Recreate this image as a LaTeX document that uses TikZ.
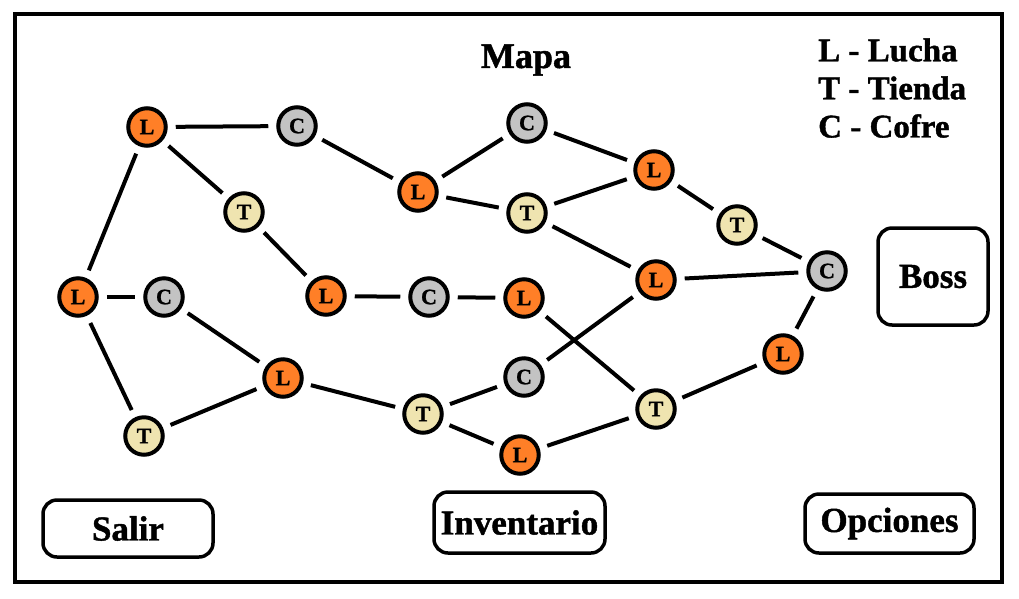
\documentclass[tikz,border=0pt]{standalone}
\usepackage{fontspec}
\setmainfont{Liberation Serif}[BoldFeatures={FakeBold=1.2}]
\definecolor{lorange}{HTML}{FF7F27}
\definecolor{cgray}{HTML}{C3C3C3}
\definecolor{ttan}{HTML}{EFE4B0}
\begin{document}
\begin{tikzpicture}[x=1pt,y=-1pt,
  room/.style={circle,draw=black,line width=4pt,minimum size=37.5pt,inner sep=0pt,
     font=\fontsize{22}{22}\selectfont\bfseries},
  lroom/.style={room,fill=lorange},
  croom/.style={room,fill=cgray},
  troom/.style={room,fill=ttan},
  link/.style={line width=4pt,shorten >=8pt,shorten <=8pt},
  btn/.style={draw=black,line width=3.5pt,rounded corners=14pt,
     font=\fontsize{35}{35}\selectfont\bfseries},
  big/.style={font=\fontsize{36}{36}\selectfont\bfseries},
  leg/.style={anchor=west,inner sep=0pt,font=\fontsize{33}{33}\selectfont\bfseries}]
\useasboundingbox (0,0) rectangle (1019,598);
\fill[white] (0,0) rectangle (1019,598);
\draw[line width=4pt] (15,14) rectangle (1002,582);

\node[big] (title) at (526,60) {Mapa};
\node[leg] (leg1) at (818,50) {L - Lucha};
\node[leg] (leg2) at (818,88) {T - Tienda};
\node[leg] (leg3) at (818,126) {C - Cofre};

\node[btn,minimum width=110pt,minimum height=97pt] (boss) at (933,276.5) {Boss};
\node[btn,minimum width=170pt,minimum height=57pt] (salir) at (128,528.5) {Salir};
\node[btn,minimum width=171pt,minimum height=61pt] (inv) at (519.5,522.5) {Inventario};
\node[btn,minimum width=169pt,minimum height=59pt] (opc) at (889.5,523.5) {Opciones};

\node[lroom] (L1) at (147,127) {L};
\node[croom] (C1) at (297,126) {C};
\node[troom] (T1) at (244,212) {T};
\node[lroom] (L2) at (418,192) {L};
\node[croom] (C2) at (527,123) {C};
\node[troom] (T2) at (527,213) {T};
\node[lroom] (L3) at (654,170) {L};
\node[troom] (T3) at (737,225) {T};
\node[lroom] (L4) at (656,280) {L};
\node[croom] (C3) at (827,271) {C};
\node[lroom] (L5) at (78,297) {L};
\node[croom] (C4) at (164,297) {C};
\node[lroom] (L6) at (326,296) {L};
\node[croom] (C5) at (429,297) {C};
\node[lroom] (L7) at (524,298) {L};
\node[lroom] (L8) at (283,378) {L};
\node[croom] (C6) at (524,377) {C};
\node[troom] (T4) at (144,436) {T};
\node[troom] (T5) at (423,414) {T};
\node[lroom] (L9) at (520,455) {L};
\node[troom] (T6) at (656,409) {T};
\node[lroom] (L10) at (783,354) {L};

\foreach \a/\b in {L1/C1,L1/T1,L1/L5,C1/L2,T1/L6,L2/C2,L2/T2,C2/L3,T2/L3,T2/L4,
  L3/T3,T3/C3,L4/C3,L5/C4,L5/T4,C4/L8,L6/C5,C5/L7,L7/T6,L8/T4,L8/T5,T5/C6,C6/L4,
  T5/L9,L9/T6,T6/L10,L10/C3}
  \draw[link] (\a) -- (\b);
\end{tikzpicture}
\end{document}
